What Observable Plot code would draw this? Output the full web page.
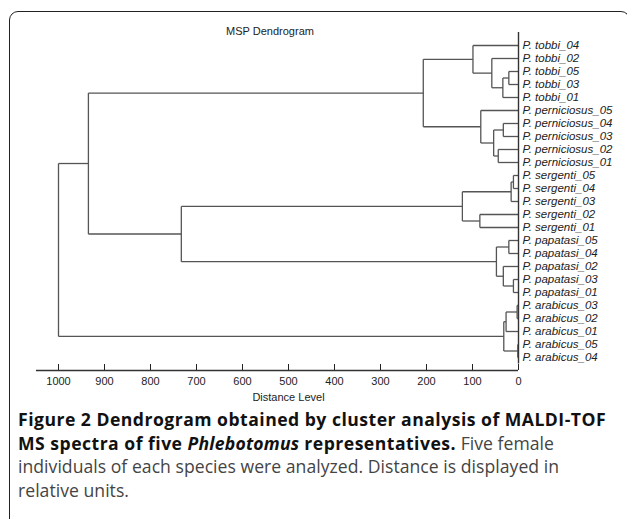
<!DOCTYPE html>
<html><head><meta charset="utf-8">
<script src="https://cdn.jsdelivr.net/npm/d3@7"></script>
<script src="https://cdn.jsdelivr.net/npm/@observablehq/plot@0.6"></script>
<style>
html,body{margin:0;padding:0;background:#fff;width:627px;height:519px;overflow:hidden;position:relative;}
#frame{position:absolute;left:9px;top:11px;width:621px;height:600px;border:1.6px solid #222;border-radius:9px;box-sizing:border-box;}
#chart{position:absolute;left:0;top:0;}
#title{position:absolute;top:25px;left:0;width:540px;text-align:center;font:11px "Liberation Sans",Arial,sans-serif;color:#222;}
#caption{position:absolute;left:18px;top:408px;font-family:"Open Sans",sans-serif;font-size:17.6px;line-height:23.7px;color:#444;white-space:nowrap;letter-spacing:0.03px;}
#caption b{color:#111;font-weight:700;letter-spacing:0.48px;}
#caption b i{letter-spacing:0.2px;}
</style></head><body>
<div id="frame"></div>
<div id="chart"></div>
<div id="title">MSP Dendrogram</div>
<div id="caption"><b>Figure 2 Dendrogram obtained by cluster analysis of MALDI-TOF</b><br><b>MS spectra of five <i>Phlebotomus</i> representatives.</b> Five female<br>individuals of each species were analyzed. Distance is displayed in<br>relative units.</div>
<script>
// leaf labels, top to bottom
const leaves = [
  "P. tobbi_04","P. tobbi_02","P. tobbi_05","P. tobbi_03","P. tobbi_01",
  "P. perniciosus_05","P. perniciosus_04","P. perniciosus_03","P. perniciosus_02","P. perniciosus_01",
  "P. sergenti_05","P. sergenti_04","P. sergenti_03","P. sergenti_02","P. sergenti_01",
  "P. papatasi_05","P. papatasi_04","P. papatasi_02","P. papatasi_03","P. papatasi_01",
  "P. arabicus_03","P. arabicus_02","P. arabicus_01","P. arabicus_05","P. arabicus_04"
];
// linkage: [childA, childB, distance]; new node index = leaves.length + row
const mergeA = [2, 25, 1, 0, 6, 8, 29, 5, 28, 10, 34, 13, 35, 15, 18, 17, 38, 37, 33, 20, 44, 23, 45, 43];
const mergeB = [3, 4, 26, 27, 7, 9, 30, 31, 32, 11, 12, 14, 36, 16, 19, 39, 40, 41, 42, 21, 22, 24, 46, 47];
const mergeH = [21, 34, 58, 99, 33, 44, 54, 82, 207, 11, 16, 84, 122, 21, 11, 33, 48, 733, 935, 3, 27, 1.5, 32, 1000];
const tickValues = [1000, 900, 800, 700, 600, 500, 400, 300, 200, 100, 0];
const axisExtent = [1048, 0];

const nodeY = leaves.map((_, i) => i);
const nodeH = leaves.map(() => 0);
const segs = [];
mergeA.forEach((a, k) => {
  const b = mergeB[k], h = mergeH[k];
  segs.push({x1: nodeH[a], y1: nodeY[a], x2: h, y2: nodeY[a]});
  segs.push({x1: nodeH[b], y1: nodeY[b], x2: h, y2: nodeY[b]});
  segs.push({x1: h, y1: nodeY[a], x2: h, y2: nodeY[b]});
  nodeY.push((nodeY[a] + nodeY[b]) / 2);
  nodeH.push(h);
});
const leafData = leaves.map((name, i) => ({name, i}));

const chart = Plot.plot({
  width: 627, height: 405,
  marginLeft: 58, marginRight: 109, marginTop: 20, marginBottom: 35,
  style: {fontFamily: '"Liberation Sans", Arial, sans-serif', fontSize: "11px", color: "#222", background: "transparent"},
  x: {domain: [1000, 0], range: [58, 518]},
  y: {domain: [0, leaves.length - 1], range: [45, 357], axis: null},
  marks: [
    Plot.link(segs, {x1: "x1", y1: "y1", x2: "x2", y2: "y2", stroke: "#555", strokeWidth: 1.3}),
    Plot.ruleX([0], {y1: -1, y2: leaves.length - 0.5, stroke: "#333", strokeWidth: 1.4}),
    Plot.ruleY([leaves.length], {x1: axisExtent[0], x2: axisExtent[1], stroke: "#333", strokeWidth: 1.4}),
    Plot.axisX({ticks: tickValues, tickSize: -6, tickPadding: 13, tickFormat: d => String(d), fontSize: 11,
      label: "Distance Level", labelAnchor: "center", labelOffset: 30, labelArrow: "none"}),
    Plot.text(leafData, {x: 0, y: "i", text: "name", dx: 4, textAnchor: "start", fontStyle: "italic", fontSize: 11.5, fill: "#222"})
  ]
});
document.getElementById("chart").appendChild(chart);
</script>
</body></html>
